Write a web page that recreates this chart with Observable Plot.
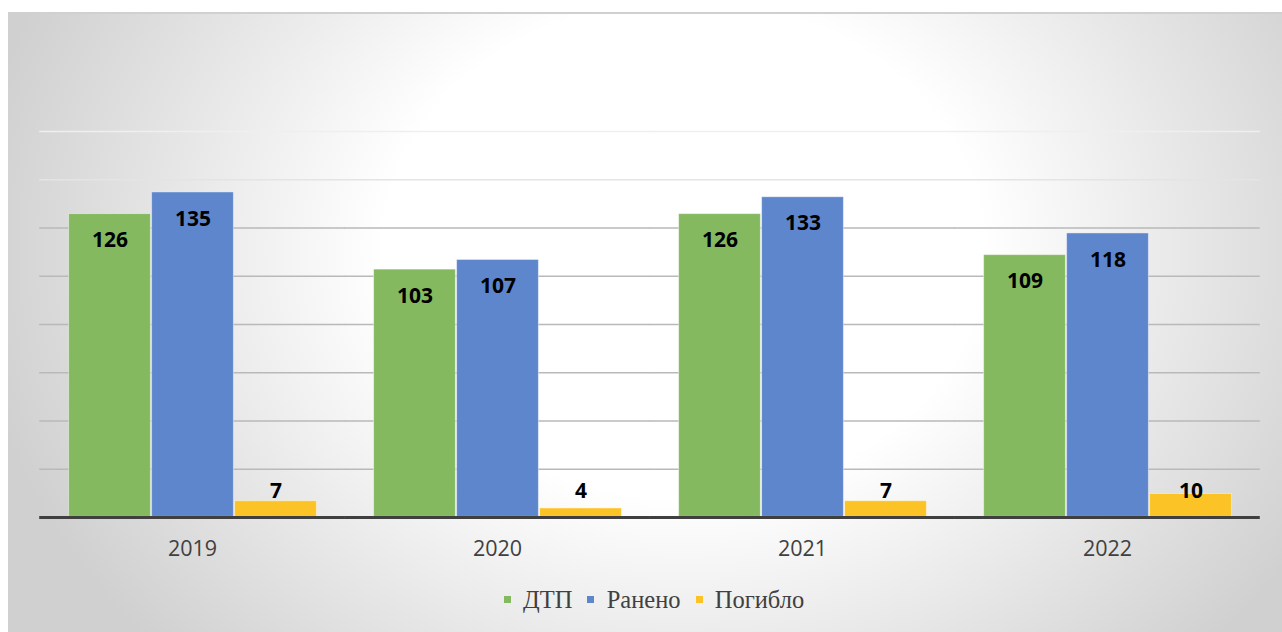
<!DOCTYPE html>
<html>
<head>
<meta charset="utf-8">
<script src="https://cdn.jsdelivr.net/npm/d3@7"></script>
<script src="https://cdn.jsdelivr.net/npm/@observablehq/plot@0.6"></script>
<style>
  html, body { margin: 0; padding: 0; background: #ffffff; }
  #frame {
    position: absolute; left: 8px; top: 12px; width: 1274px; height: 620px;
    border-top: 2px solid #d2cfd3;
    background: radial-gradient(ellipse 56% 95% at 53% 38%, #ffffff 0%, #ffffff 42%, #e4e4e4 75%, #d0d0d0 100%);
    overflow: hidden;
  }
  #legend-holder { display: flex; justify-content: center; margin-top: 9px; padding-left: 18px; }
</style>
</head>
<body>
<div id="frame"><div id="chart"></div><div id="legend-holder"></div></div>
<script>
const years = ["2019", "2020", "2021", "2022"];
const series = ["ДТП", "Ранено", "Погибло"];
const dtp = [126, 103, 126, 109];
const raneno = [135, 107, 133, 118];
const pogiblo = [7, 4, 7, 10];
const gridValues = [20, 40, 60, 80, 100, 120, 140, 160];
const colors = ["#84b95f", "#5d86cc", "#fbc325"];

const data = years.flatMap((y, i) => [
  {year: y, series: series[0], value: dtp[i]},
  {year: y, series: series[1], value: raneno[i]},
  {year: y, series: series[2], value: pogiblo[i]}
]);
const tall = data.filter(d => d.series !== "Погибло");
const small = data.filter(d => d.series === "Погибло");

const gapFill = -27.8;

const chart = Plot.plot({
  width: 1274,
  height: 560,
  marginLeft: 30,
  marginRight: 21,
  marginTop: 117,
  marginBottom: 57,
  style: {background: "transparent", fontFamily: "Open Sans", overflow: "visible"},
  fx: {domain: years, paddingInner: 0.18, paddingOuter: 0.09, label: null, axis: null},
  x: {domain: series, padding: 0, axis: null},
  y: {domain: [0, 160], axis: null},
  color: {domain: series, range: colors},
  marks: [
    Plot.ruleY(gridValues, {
      stroke: d => d >= 160 ? "#efefef" : d >= 140 ? "#e4e4e4" : "#b9b9b9",
      strokeWidth: 1.6, insetLeft: gapFill, insetRight: gapFill
    }),
    Plot.barY(data, {fx: "year", x: "series", y: "value", fill: "series", inset: 0.6, stroke: "#ffffff", strokeOpacity: 0.45, strokeWidth: 1}),
    Plot.text(tall, {fx: "year", x: "series", y: "value", text: "value", dy: 27, fontSize: 21, fontWeight: "bold", fill: "#000000"}),
    Plot.text(small, {fx: "year", x: "series", y: 0, text: "value", dy: -26, fontSize: 21, fontWeight: "bold", fill: "#000000"}),
    Plot.ruleY([0], {stroke: "#3f3f3f", strokeWidth: 3, insetLeft: gapFill, insetRight: gapFill}),
    Plot.axisFx({anchor: "bottom", tickSize: 0, tickPadding: 23, fontSize: 21.5, color: "#404040", label: null})
  ]
});
document.getElementById("chart").appendChild(chart);

const legend = Plot.legend({color: {domain: series, range: colors}, swatchSize: 7});
legend.style.fontFamily = "'Liberation Serif', 'Times New Roman', serif";
legend.style.fontSize = "24.5px";
legend.style.color = "#404040";
legend.style.margin = "0";
const items = Array.from(legend.children).filter(el => el.tagName.toLowerCase() === "span");
items.forEach((el, i) => { el.style.marginRight = i === items.length - 1 ? "0" : "15px"; });
document.getElementById("legend-holder").appendChild(legend);
</script>
</body>
</html>
